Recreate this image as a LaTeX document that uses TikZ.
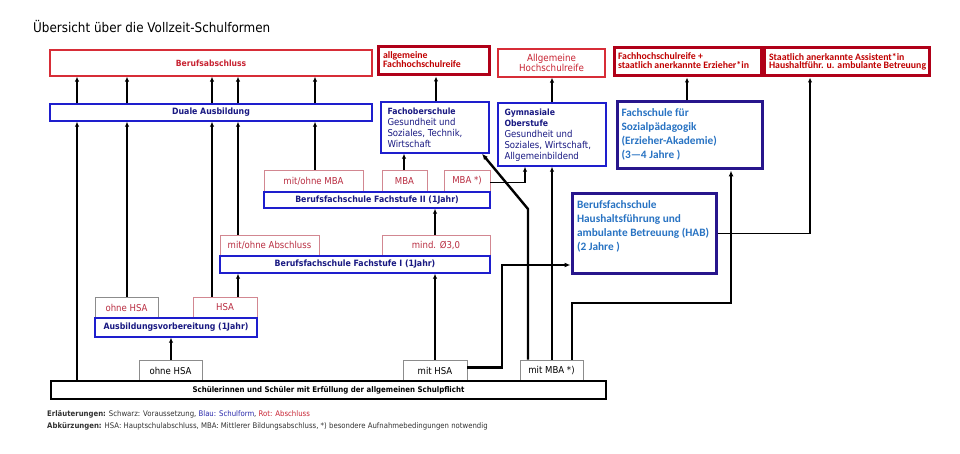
\documentclass[tikz,border=0pt]{standalone}
\usepackage{fontspec}
\setmainfont{DejaVu Sans}[FakeStretch=0.9]
\newfontfamily\calfont{Carlito}
\usetikzlibrary{arrows.meta}
\definecolor{rthin}{RGB}{215,45,55}
\definecolor{rtext}{RGB}{200,35,50}
\definecolor{rthick}{RGB}{176,0,24}
\definecolor{rthicktext}{RGB}{192,0,0}
\definecolor{lborder}{RGB}{210,135,145}
\definecolor{ltext}{RGB}{185,45,65}
\definecolor{bthin}{RGB}{30,30,205}
\definecolor{btext}{RGB}{25,25,130}
\definecolor{indig}{RGB}{40,22,140}
\definecolor{itext}{RGB}{40,115,195}
\definecolor{gborder}{RGB}{140,140,140}
\definecolor{legblue}{RGB}{40,40,170}
\definecolor{legtext}{RGB}{50,50,50}
\newcommand{\myfs}[2]{\fontsize{#1}{#2}\selectfont}
\newcommand{\tlbox}[4]{\parbox[c][#2pt][t]{#1pt}{\vspace*{#3pt}\raggedright #4}}
\newcommand{\mybox}[7]{\node[#1, minimum width={(#5-#3)*1pt}, minimum height={(#6-#4)*1pt}] (#2) at ({(#3+#5)/2},{(#4+#6)/2}) {#7};}
\newcommand{\hd}[1]{\mbox{\bfseries\myfs{8.6}{11.2}#1}}
\tikzset{
 redthin/.style={draw=rthin, line width=1.3pt, text=rtext, inner sep=0pt, font=\bfseries\myfs{8.5}{10}},
 redthick/.style={draw=rthick, line width=3pt, text=rthicktext, inner ysep=0pt, font=\calfont\bfseries\myfs{9.8}{8.9}},
 bluethin/.style={draw=bthin, line width=1.4pt, text=btext, inner sep=0pt, font=\myfs{9.5}{11.2}},
 bluehead/.style={bluethin, font=\bfseries\myfs{8.7}{11.2}},
 indigobox/.style={draw=indig, line width=3pt, text=itext, inner ysep=0pt, font=\calfont\bfseries\myfs{11.3}{14}},
 redlab/.style={draw=lborder, line width=0.8pt, text=ltext, inner sep=0pt, font=\myfs{9.5}{10}},
 graylab/.style={draw=gborder, line width=0.8pt, text=black, inner sep=0pt, font=\myfs{9.5}{10}},
 basebox/.style={draw=black, line width=1.3pt, inner sep=0pt, font=\bfseries\myfs{7.8}{10}},
 arr/.style={-{Latex[length=5pt,width=4.5pt]}, line width=1.4pt},
 tarr/.style={-{Latex[length=6pt,width=5pt]}, line width=2.4pt},
}
\begin{document}
\begin{tikzpicture}[x=1pt,y=-1pt]
\fill[white] (0,0) rectangle (960,454);
\useasboundingbox (0,0) rectangle (960,454);
\node[anchor=base west, inner sep=0pt, font=\myfs{13.3}{15}] (title) at (33,33) {Übersicht über die Vollzeit-Schulformen};
% top row
\mybox{redthin}{bab}{50}{50}{372}{76}{Berufsabschluss}
\mybox{redthick, inner xsep=5pt}{afhr}{378}{47}{489}{75}{\tlbox{101}{28}{5}{\mbox{allgemeine}\\\mbox{Fachhochschulreife}}}
\mybox{redthin, align=center, font=\myfs{9.7}{10}}{ahr}{498}{49}{605}{77}{Allgemeine\\Hochschulreife}
\mybox{redthick, inner xsep=4pt}{fhre}{614}{48}{761}{76}{\tlbox{139}{28}{5}{\mbox{Fachhochschulreife +}\\\mbox{staatlich anerkannte Erzieher*in}}}
\mybox{redthick, inner xsep=5pt}{sta}{764}{48}{929}{76}{\tlbox{155}{28}{5}{\mbox{Staatlich anerkannte Assistent*in}\\\mbox{Haushaltführ. u. ambulante Betreuung}}}
% second row
\mybox{bluehead}{duale}{50}{104}{372}{121}{Duale Ausbildung}
\mybox{bluethin, inner xsep=6.5pt}{fos}{381}{102}{489}{153}{\tlbox{95}{51}{5.5}{\hd{Fachoberschule}\\\mbox{Gesundheit und}\\\mbox{Soziales, Technik,}\\\mbox{Wirtschaft}}}
\mybox{bluethin, inner xsep=6.5pt}{gym}{498}{103}{606}{166}{\tlbox{95}{63}{5.5}{\hd{Gymnasiale}\\\hd{Oberstufe}\\\mbox{Gesundheit und}\\\mbox{Soziales, Wirtschaft,}\\\mbox{Allgemeinbildend}}}
\mybox{indigobox, inner xsep=4.5pt}{fs}{617}{102}{762}{169}{\tlbox{136}{67}{7}{\mbox{Fachschule für}\\\mbox{Sozialpädagogik}\\\mbox{(Erzieher-Akademie)}\\\mbox{(3—4 Jahre )}}}
\mybox{indigobox, inner xsep=5pt}{hab}{572}{194}{716}{273}{\tlbox{134}{79}{6.5}{\mbox{Berufsfachschule}\\\mbox{Haushaltsführung und}\\\mbox{ambulante Betreuung (HAB)}\\\mbox{(2 Jahre )}}}
% Fachstufe II
\mybox{redlab}{mom}{264}{170}{363}{192}{mit/ohne MBA}
\mybox{redlab}{mba}{382}{170}{427}{192}{MBA}
\mybox{redlab}{mbas}{444}{170}{490}{192}{MBA *)}
\mybox{bluehead}{fs2}{264}{192}{490}{208}{Berufsfachschule Fachstufe II (1Jahr)}
% Fachstufe I
\mybox{redlab}{moa}{220}{235}{319}{256}{mit/ohne Abschluss}
\mybox{redlab}{mnd}{382}{235}{490}{256}{mind. Ø3,0}
\mybox{bluehead}{fs1}{220}{256}{490}{273}{Berufsfachschule Fachstufe I (1Jahr)}
% Ausbildungsvorbereitung
\mybox{redlab, draw=gborder}{oh1}{95}{297}{158}{318}{ohne HSA}
\mybox{redlab}{hsa1}{193}{297}{257}{318}{HSA}
\mybox{bluehead}{ausb}{95}{318}{257}{337}{Ausbildungsvorbereitung (1Jahr)}
% bottom
\mybox{graylab}{gohne}{139}{360}{202}{381}{ohne HSA}
\mybox{graylab}{gmhsa}{403}{360}{467}{381}{mit HSA}
\mybox{graylab}{gmmba}{520}{360}{583}{381}{mit MBA *)}
\mybox{basebox}{base}{51}{381}{606}{399}{Schülerinnen und Schüler mit Erfüllung der allgemeinen Schulpflicht}
% legend
\node[anchor=base west, inner sep=0pt, text=legtext, font=\myfs{7.7}{9}] (leg1) at (47,416) {\textbf{Erläuterungen:} Schwarz: Voraussetzung, \textcolor{legblue}{Blau: Schulform}, \textcolor{rtext}{Rot: Abschluss}};
\node[anchor=base west, inner sep=0pt, text=legtext, font=\myfs{7.7}{9}] (leg2) at (47,428) {\textbf{Abkürzungen:} HSA: Hauptschulabschluss, MBA: Mittlerer Bildungsabschluss, *) besondere Aufnahmebedingungen notwendig};
% connectors: Duale -> Berufsabschluss
\foreach \xx in {77,127,212,238,315}{\draw[arr] (duale.north -| \xx,0) -- (bab.south -| \xx,0);}
\draw[arr] (base.north -| 77,0) -- (duale.south -| 77,0);
\draw[arr] (oh1.north -| 127,0) -- (duale.south -| 127,0);
\draw[arr] (hsa1.north -| 212,0) -- (duale.south -| 212,0);
\draw[arr] (moa.north -| 238,0) -- (duale.south -| 238,0);
\draw[arr] (mom.north -| 315,0) -- (duale.south -| 315,0);
\draw[arr] (hsa1.north -| 238,0) -- (fs1.south -| 238,0);
\draw[arr] (gohne.north -| 171,0) -- (ausb.south -| 171,0);
\draw[arr] (gmhsa.north -| 435,0) -- (fs1.south -| 435,0);
\draw[arr] (mnd.north -| 435,0) -- (fs2.south -| 435,0);
\draw[arr] (mba.north -| 404,0) -- (fos.south -| 404,0);
\draw[arr] ([yshift=-1.5pt]mbas.east) -| (gym.south -| 525,0);
\draw[arr] (fos.north -| 436,0) -- (afhr.south -| 436,0);
\draw[arr] (gym.north -| 552,0) -- (ahr.south -| 552,0);
\draw[arr] (fs.north -| 687,0) -- (fhre.south -| 687,0);
\draw[arr, line width=1.8pt] (hab.east) -| (sta.south -| 810,0);
\draw[tarr] ([yshift=3pt]gmhsa.east) -| (502,265) -- (hab.west |- 502,265);
\draw[tarr] (gmmba.north -| 528,0) -- (528,209) -- (fos.south -| 482,0);
\draw[arr] (gmmba.north -| 552,0) -- (gym.south -| 552,0);
\draw[tarr] (gmmba.north -| 572,0) |- (731,303) -- (fs.south -| 731,0);
\end{tikzpicture}
\end{document}
